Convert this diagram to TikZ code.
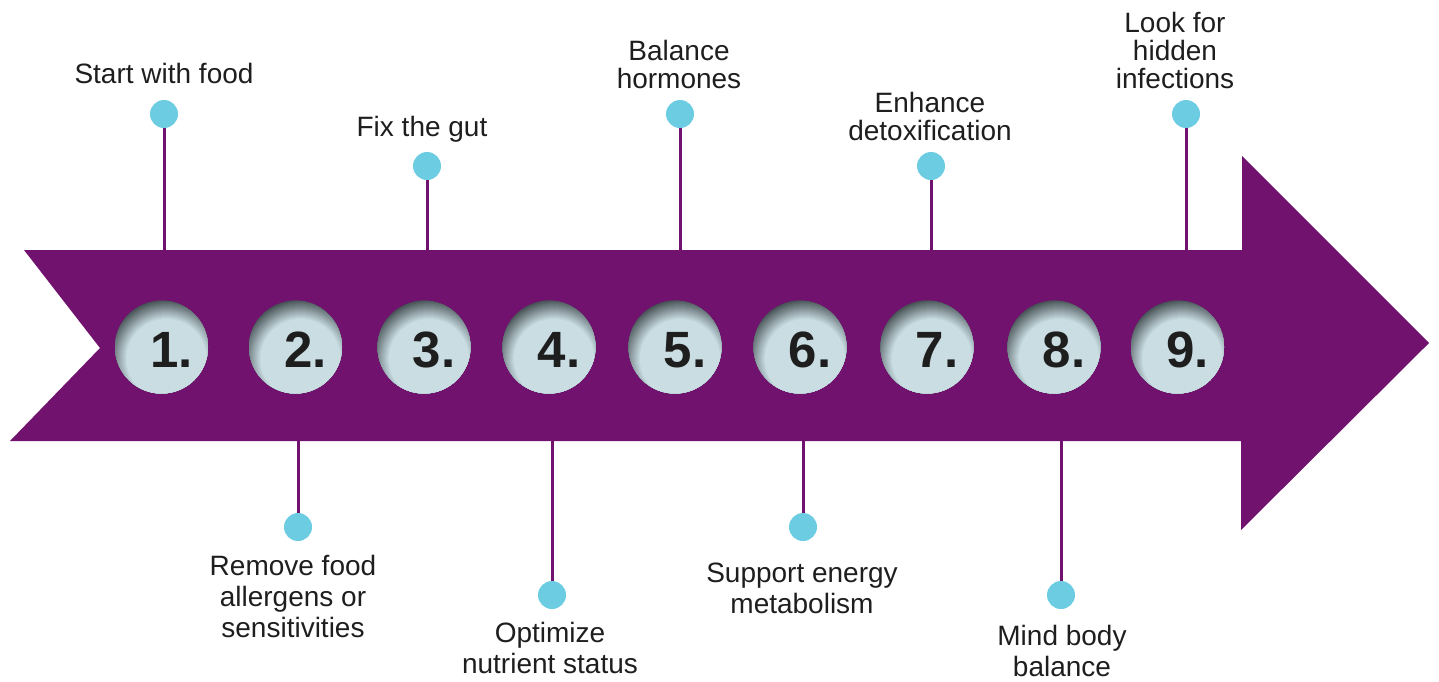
\documentclass[tikz,border=0pt]{standalone}
\usepackage{fontspec}
\setmainfont{Liberation Sans}
\definecolor{plum}{RGB}{112,18,110}
\definecolor{dotblue}{RGB}{108,204,226}
\definecolor{ballLight}{RGB}{201,221,227}
\definecolor{ballDark}{RGB}{68,78,82}
\definecolor{ink}{RGB}{30,30,30}
\begin{document}
\begin{tikzpicture}[x=0.5pt,y=-0.5pt,
  stem/.style={draw=plum, line width=1.5pt},
  pin/.style={circle, fill=dotblue, minimum size=14pt, inner sep=0pt},
  % sphere: stacked discs centred low and right, dark rim fading into a light core
  ballnode/.style={circle, minimum size=46.5pt, inner sep=0pt,
    path picture={
      \foreach \k in {0,...,20}{
        \pgfmathtruncatemacro\pct{5*\k}
        \fill[ballLight!\pct!ballDark]
          ([shift={(5,12)}]path picture bounding box.center) circle ({60-\k});
      }}},
  numtext/.style={font=\fontsize{25.5}{26}\selectfont\bfseries, text=ink, anchor=base, inner sep=0pt},
  toplabel/.style={font=\fontsize{14}{14}\selectfont, align=center, anchor=base, text=ink, inner sep=0pt},
  botlabel/.style={font=\fontsize{14}{15.5}\selectfont, align=center, anchor=base, text=ink, inner sep=0pt}]
\useasboundingbox (0,0) rectangle (1439,681);

% the arrow band with notched tail
\fill[plum] (24,250) -- (1242,250) -- (1242,156) -- (1429,343) -- (1241,530)
  -- (1241,441) -- (10,441) -- (100,348) -- cycle;

% stem end points on the arrow edges
\coordinate (e1) at (164,250);
\coordinate (e3) at (427,250);
\coordinate (e5) at (680,250);
\coordinate (e7) at (931,250);
\coordinate (e9) at (1186,250);
\coordinate (e2) at (298,441);
\coordinate (e4) at (552,441);
\coordinate (e6) at (803,441);
\coordinate (e8) at (1061,441);

% pins
\node[pin] (d1) at (164,114) {};
\node[pin] (d3) at (427,166) {};
\node[pin] (d5) at (680,114) {};
\node[pin] (d7) at (931,166) {};
\node[pin] (d9) at (1186,114) {};
\node[pin] (d2) at (298,527) {};
\node[pin] (d4) at (552,595) {};
\node[pin] (d6) at (803,527) {};
\node[pin] (d8) at (1061,595) {};

\foreach \i in {1,...,9} {\draw[stem] (d\i) -- (e\i);}

% numbered spheres
\foreach \i/\cx in {1/161.5,2/295.5,3/424,4/549,5/675,6/800,7/927,8/1054,9/1177.5} {
  \node[ballnode] (b\i) at (\cx,347) {};
  \node[numtext] (n\i) at ([xshift=5pt]b\i.center |- 0,367) {\i.};
}

% step labels (anchored at the baseline of their last line)
\node[toplabel] (l1) at (164,83) {Start with food};
\node[toplabel] (l3) at (422,136) {Fix the gut};
\node[toplabel] (l5) at (679,88) {Balance\\hormones};
\node[toplabel] (l7) at (930,140) {Enhance\\detoxification};
\node[toplabel] (l9) at (1175,88) {Look for\\hidden\\infections};
\node[botlabel] (l2) at (293,637) {Remove food\\allergens or\\sensitivities};
\node[botlabel] (l4) at (550,673) {Optimize\\nutrient status};
\node[botlabel] (l6) at (802,613) {Support energy\\metabolism};
\node[botlabel] (l8) at (1062,676) {Mind body\\balance};
\end{tikzpicture}
\end{document}
